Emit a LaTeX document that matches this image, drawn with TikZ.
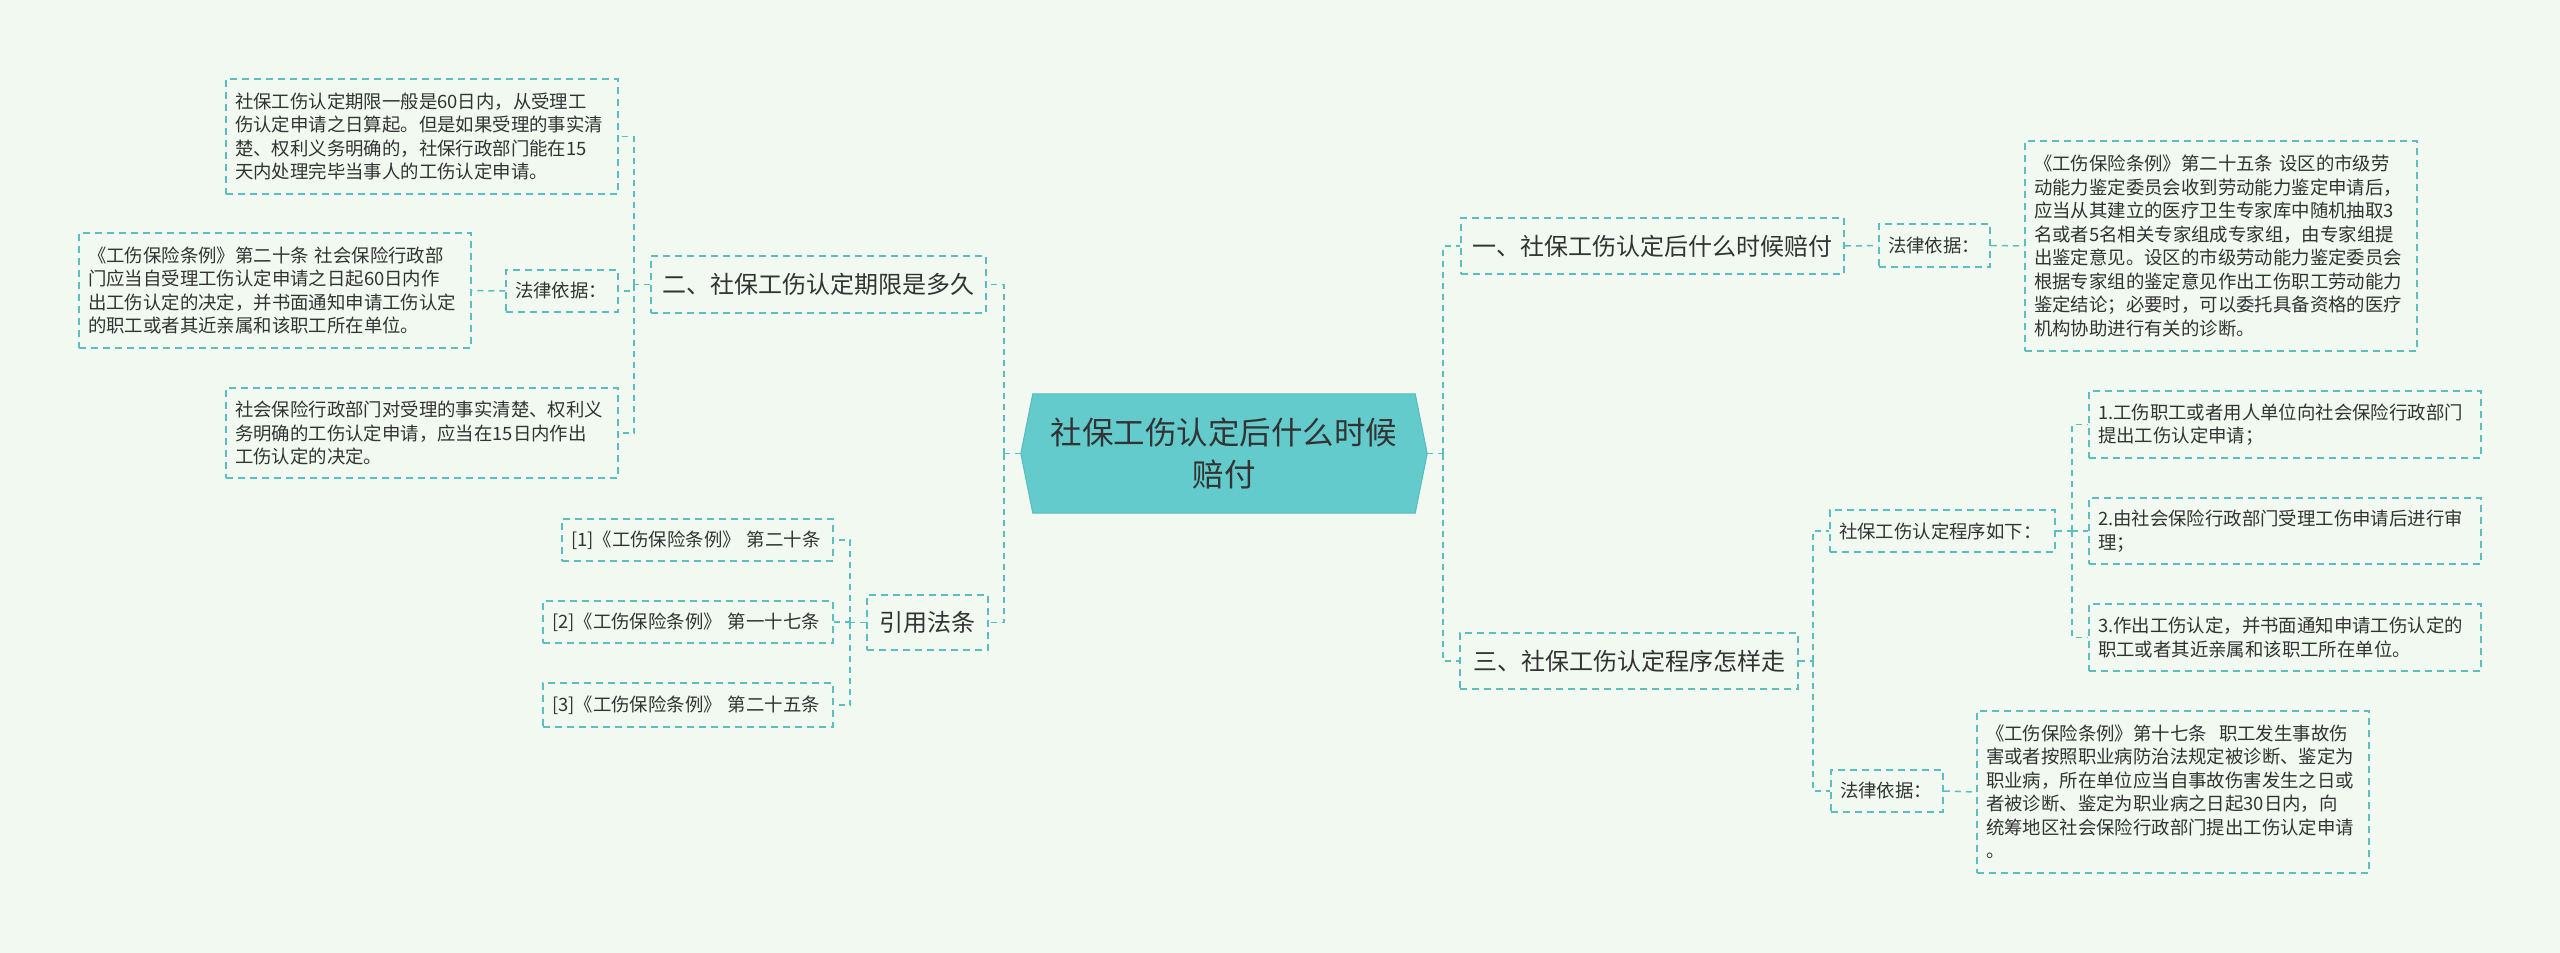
\documentclass[tikz,border=0pt]{standalone}
\usepackage{fontspec}
\setmainfont{Noto Sans CJK SC}
\usetikzlibrary{backgrounds}

\definecolor{bgc}{HTML}{F1F9F1}
\definecolor{linec}{HTML}{5BBFC0}
\definecolor{rootc}{HTML}{63CBCC}
\definecolor{rootd}{HTML}{58BDBE}
\definecolor{textc}{HTML}{333333}

\tikzset{
	leaf/.style={draw=linec, line width=1.5pt, dash pattern=on 7pt off 5pt,
		inner xsep=9pt, inner ysep=0pt, align=left, text=textc,
		font=\fontsize{18.4}{23.5}\selectfont},
	branch/.style={leaf, align=center, inner xsep=0pt,
		font=\fontsize{24}{30}\selectfont},
	root/.style={inner sep=0pt, align=center, text=textc,
		minimum width=406pt, minimum height=119pt,
		font=\fontsize{31.5}{42}\selectfont},
	link/.style={draw=linec, line width=1.5pt, dash pattern=on 6pt off 5pt}
}

\begin{document}
\begin{tikzpicture}[x=1pt, y=-1pt]
	\useasboundingbox (0,0) rectangle (2560,953);

	\node (root) at (1224,453.5) [root] {社保工伤认定后什么时候\\赔付};

	% left side
	\node (b2) at (818.5,284.5) [branch, text width=335pt, minimum height=57pt] {二、社保工伤认定期限是多久};
	\node (law2) at (562,291) [leaf, text width=94pt, minimum height=42pt] {法律依据：};
	\node (b2a) at (422,136.5) [leaf, text width=374pt, minimum height=115pt]
		{社保工伤认定期限一般是60日内，从受理工\\伤认定申请之日算起。但是如果受理的事实清\\楚、权利义务明确的，社保行政部门能在15\\天内处理完毕当事人的工伤认定申请。};
	\node (b2b) at (275,290.5) [leaf, text width=374pt, minimum height=115pt]
		{《工伤保险条例》第二十条 社会保险行政部\\门应当自受理工伤认定申请之日起60日内作\\出工伤认定的决定，并书面通知申请工伤认定\\的职工或者其近亲属和该职工所在单位。};
	\node (b2c) at (422,433) [leaf, text width=374pt, minimum height=90pt]
		{社会保险行政部门对受理的事实清楚、权利义\\务明确的工伤认定申请，应当在15日内作出\\工伤认定的决定。};

	\node (cite) at (927.5,622.5) [branch, text width=121pt, minimum height=55pt] {引用法条};
	\node (c1) at (697.5,540) [leaf, text width=253pt, minimum height=42pt] {[1]《工伤保险条例》 第二十条};
	\node (c2) at (688,622) [leaf, text width=272pt, minimum height=42pt] {[2]《工伤保险条例》 第一十七条};
	\node (c3) at (688,705) [leaf, text width=272pt, minimum height=44pt] {[3]《工伤保险条例》 第二十五条};

	% right side
	\node (b1) at (1652.5,246) [branch, text width=383pt, minimum height=56pt] {一、社保工伤认定后什么时候赔付};
	\node (law1) at (1934.5,245.5) [leaf, text width=93pt, minimum height=43pt] {法律依据：};
	\node (b1a) at (2221,246) [leaf, text width=374pt, minimum height=210pt]
		{《工伤保险条例》第二十五条 设区的市级劳\\动能力鉴定委员会收到劳动能力鉴定申请后，\\应当从其建立的医疗卫生专家库中随机抽取3\\名或者5名相关专家组成专家组，由专家组提\\出鉴定意见。设区的市级劳动能力鉴定委员会\\根据专家组的鉴定意见作出工伤职工劳动能力\\鉴定结论；必要时，可以委托具备资格的医疗\\机构协助进行有关的诊断。};

	\node (b3) at (1629,661) [branch, text width=338pt, minimum height=56pt] {三、社保工伤认定程序怎样走};
	\node (proc) at (1942.5,531) [leaf, text width=207pt, minimum height=42pt] {社保工伤认定程序如下：};
	\node (p1) at (2285,424.5) [leaf, text width=374pt, minimum height=67pt]
		{1.工伤职工或者用人单位向社会保险行政部门\\提出工伤认定申请；};
	\node (p2) at (2285,531) [leaf, text width=374pt, minimum height=66pt]
		{2.由社会保险行政部门受理工伤申请后进行审\\理；};
	\node (p3) at (2285,637.5) [leaf, text width=374pt, minimum height=67pt]
		{3.作出工伤认定，并书面通知申请工伤认定的\\职工或者其近亲属和该职工所在单位。};
	\node (law3) at (1887,791) [leaf, text width=94pt, minimum height=42pt] {法律依据：};
	\node (b3b) at (2173,792) [leaf, text width=374pt, minimum height=162pt]
		{《工伤保险条例》第十七条\ \ 职工发生事故伤\\害或者按照职业病防治法规定被诊断、鉴定为\\职业病，所在单位应当自事故伤害发生之日或\\者被诊断、鉴定为职业病之日起30日内，向\\统筹地区社会保险行政部门提出工伤认定申请\\。};

	% junctions
	\coordinate (jl) at (1004,453.5);
	\coordinate (j2) at (634,284.5);
	\coordinate (jc) at (850,622.5);
	\coordinate (jr) at (1443,453.5);
	\coordinate (j3) at (1813,661);
	\coordinate (jp) at (2072,531);

	\draw[link] (root.west) -- (jl);
	\draw[link] (jl) |- (b2.east);
	\draw[link] (jl) |- (cite.east);
	\draw[link] (b2.west) -- (j2);
	\draw[link] (j2) |- (b2a.east);
	\draw[link] (j2) |- (law2.east);
	\draw[link] (j2) |- (b2c.east);
	\draw[link] (law2.west) -- (b2b.east);
	\draw[link] (cite.west) -- (jc);
	\draw[link] (jc) |- (c1.east);
	\draw[link] (jc) |- (c2.east);
	\draw[link] (jc) |- (c3.east);

	\draw[link] (root.east) -- (jr);
	\draw[link] (jr) |- (b1.west);
	\draw[link] (jr) |- (b3.west);
	\draw[link] (b1.east) -- (law1.west);
	\draw[link] (law1.east) -- (b1a.west);
	\draw[link] (b3.east) -- (j3);
	\draw[link] (j3) |- (proc.west);
	\draw[link] (j3) |- (law3.west);
	\draw[link] (proc.east) -- (jp);
	\draw[link] (jp) |- (p1.west);
	\draw[link] (jp) |- (p2.west);
	\draw[link] (jp) |- (p3.west);
	\draw[link] (law3.east) -- (b3b.west);

	\begin{scope}[on background layer]
		\fill[bgc] (0,0) rectangle (2560,953);
		\filldraw[fill=rootc, draw=rootd, line width=1pt]
			([xshift=12pt]root.north west) -- ([xshift=-12pt]root.north east)
			-- (root.east) -- ([xshift=-12pt]root.south east)
			-- ([xshift=12pt]root.south west) -- (root.west) -- cycle;
	\end{scope}
\end{tikzpicture}
\end{document}
